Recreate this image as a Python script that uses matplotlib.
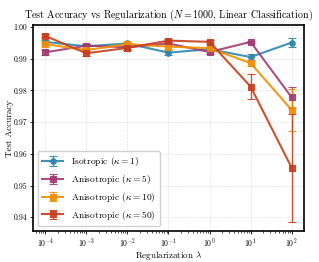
import numpy as np
import matplotlib
matplotlib.use("Agg")
import matplotlib.pyplot as plt

plt.rcParams['font.family'] = 'serif'
plt.rcParams['font.serif'] = ['cmr10', 'DejaVu Serif']
plt.rcParams['mathtext.fontset'] = 'cm'
plt.rcParams['axes.formatter.use_mathtext'] = True
plt.rcParams['axes.unicode_minus'] = False

lambdas = [1e-4, 1e-3, 1e-2, 1e-1, 1e0, 1e1, 1e2]

iso_k1 = [0.9953, 0.9939, 0.9948, 0.9919, 0.9930, 0.9905, 0.9951]
iso_k1_err = [0.0006, 0.0007, 0.0006, 0.0008, 0.0006, 0.0010, 0.0013]

aniso_k5 = [0.9920, 0.9941, 0.9936, 0.9948, 0.9921, 0.9953, 0.9778]
aniso_k5_err = [0.0008, 0.0006, 0.0008, 0.0006, 0.0007, 0.0004, 0.0033]

aniso_k10 = [0.9946, 0.9927, 0.9946, 0.9938, 0.9933, 0.9886, 0.9738]
aniso_k10_err = [0.0006, 0.0007, 0.0005, 0.0006, 0.0006, 0.0008, 0.0066]

aniso_k50 = [0.9972, 0.9917, 0.9934, 0.9957, 0.9953, 0.9812, 0.9556]
aniso_k50_err = [0.0005, 0.0007, 0.0007, 0.0005, 0.0006, 0.0040, 0.0170]

labels = [r'Isotropic ($\kappa = 1$)', r'Anisotropic ($\kappa = 5$)',
          r'Anisotropic ($\kappa = 10$)', r'Anisotropic ($\kappa = 50$)']
colors = ['#2E86AB', '#A23B72', '#F18F01', '#C73E1D']
markers = ['o', 's', 's', 's']

fig = plt.figure(figsize=(3.19, 2.62), dpi=100)
ax = fig.add_axes([0.103, 0.118, 0.850, 0.787])

series = [(iso_k1, iso_k1_err), (aniso_k5, aniso_k5_err),
          (aniso_k10, aniso_k10_err), (aniso_k50, aniso_k50_err)]
for (vals, errs), lab, c, m in zip(series, labels, colors, markers):
    ax.errorbar(lambdas, vals, yerr=errs, label=lab, color=c, marker=m,
                markersize=4, linewidth=1.5, capsize=3, capthick=1,
                elinewidth=1, markeredgewidth=0.8, alpha=0.9)

ax.set_xscale('log')
ax.set_xlabel(r'Regularization $\lambda$', fontsize=6.5)
ax.xaxis.set_label_coords(0.5, -0.085)
ax.set_ylabel('Test Accuracy', fontsize=6.5)
ax.yaxis.set_label_coords(-0.07, 0.5)
ax.set_title(r'Test Accuracy vs Regularization ($N = 1000$, Linear Classification)',
             fontsize=7.2, pad=5)
ax.tick_params(labelsize=5.6, length=2.5, width=0.6, pad=1.5)
ax.tick_params(which='minor', length=1.5, width=0.5)
ax.set_yticks([0.94, 0.95, 0.96, 0.97, 0.98, 0.99, 1.00])
ax.yaxis.set_major_formatter(matplotlib.ticker.FormatStrFormatter('%.2f'))
ax.grid(True, linestyle='--', alpha=0.35, linewidth=0.5)
for s in ax.spines.values():
    s.set_linewidth(1.2)

ax.legend(loc='lower left', fontsize=6.8, framealpha=0.9, fancybox=True,
          handlelength=2.2, borderpad=0.5)

fig.savefig('out.png', dpi=100)
